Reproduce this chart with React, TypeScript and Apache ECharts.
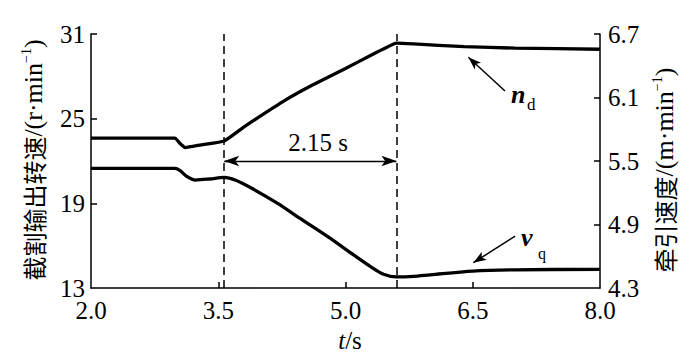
import React, { useEffect, useRef } from "react";
import * as echarts from "echarts";

// 截割输出转速 n_d (left axis, r/min)
const timeND = [2.0, 2.99, 3.04, 3.11, 3.3, 3.57, 3.8, 4.0, 4.3, 4.6, 5.0, 5.3, 5.5, 5.6, 5.8, 6.4, 7.0, 8.0];
const speedND = [23.62, 23.62, 23.3, 22.95, 23.15, 23.42, 24.4, 25.2, 26.35, 27.35, 28.55, 29.5, 30.1, 30.35, 30.3, 30.1, 30.0, 29.92];

// 牵引速度 v_q (right axis, m/min)
const timeVQ = [2.0, 2.99, 3.05, 3.12, 3.23, 3.4, 3.57, 3.7, 3.9, 4.2, 4.46, 4.8, 5.1, 5.3, 5.45, 5.6, 5.8, 6.0, 6.5, 7.0, 8.0];
const speedVQ = [5.43, 5.43, 5.41, 5.36, 5.32, 5.33, 5.345, 5.32, 5.24, 5.1, 4.96, 4.78, 4.61, 4.5, 4.43, 4.405, 4.41, 4.425, 4.46, 4.472, 4.476];

const xTicks = [2.0, 3.5, 5.0, 6.5, 8.0];
const leftTicks = [13, 19, 25, 31];
const rightTicks = [4.3, 4.9, 5.5, 6.1, 6.7];
const markTimes = [3.57, 5.6];
const spanLabel = "2.15 s";
const spanLevel = 22.0;
const ndArrow = [[6.88, 26.96], [6.448, 29.35]];
const vqArrow = [[7.0, 16.68], [6.507, 14.79]];

const SERIF = "Liberation Serif";
const CJK = "Noto Sans CJK SC";

export default function App() {
  const ref = useRef<HTMLDivElement>(null);
  useEffect(() => {
    if (!ref.current) return;
    const chart = echarts.init(ref.current, null, { renderer: "svg" });
    const ndData = timeND.map((t, i) => [t, speedND[i]]);
    const vqData = timeVQ.map((t, i) => [t, speedVQ[i]]);
    const axisLine = { show: true, lineStyle: { color: "#000", width: 1.5 } };
    const tick = (vals: number[]) => ({
      show: true,
      inside: true,
      length: 6,
      lineStyle: { color: "#000", width: 1.5 },
      customValues: vals,
    });
    const labelStyle = { color: "#000", fontFamily: SERIF, fontSize: 25 };
    const nameRich = {
      c: { fontFamily: CJK, fontSize: 24, lineHeight: 28, fill: "#000" },
      a: { fontFamily: SERIF, fontSize: 26, lineHeight: 28, fill: "#000" },
      s: { fontFamily: SERIF, fontSize: 14, lineHeight: 28, verticalAlign: "top", fill: "#000" },
    };
    const txt = (x: number, y: number, text: string, size: number, extra: any = {}) => ({
      type: "text",
      x,
      y,
      style: {
        text,
        fill: "#000",
        fontFamily: SERIF,
        fontSize: size,
        textAlign: "left",
        textVerticalAlign: "bottom",
        ...extra,
      },
    });
    chart.setOption({
      animation: false,
      textStyle: { fontFamily: SERIF },
      grid: { left: 91, right: 100, top: 34, bottom: 67, containLabel: false },
      xAxis: {
        type: "value",
        min: 2,
        max: 8,
        axisLine,
        axisTick: tick(xTicks.slice(1, -1)),
        axisLabel: { ...labelStyle, margin: 10, customValues: xTicks, formatter: (v: number) => v.toFixed(1) },
        splitLine: { show: false },
      },
      yAxis: [
        {
          type: "value",
          min: 13,
          max: 31,
          position: "left",
          axisLine,
          axisTick: tick(leftTicks.slice(1)),
          axisLabel: { ...labelStyle, margin: 6, customValues: leftTicks, formatter: (v: number) => String(v) },
          splitLine: { show: false },
        },
        {
          type: "value",
          min: 4.3,
          max: 6.7,
          position: "right",
          axisLine,
          axisTick: tick(rightTicks.slice(1)),
          axisLabel: { ...labelStyle, margin: 8, customValues: rightTicks, formatter: (v: number) => v.toFixed(1) },
          splitLine: { show: false },
        },
      ],
      series: [
        {
          type: "line",
          name: "nd",
          yAxisIndex: 0,
          data: ndData,
          showSymbol: false,
          symbol: "none",
          lineStyle: { color: "#000", width: 3.3 },
          smooth: 0.15,
          markLine: {
            silent: true,
            symbol: ["none", "none"],
            label: { show: false },
            lineStyle: { color: "#000", width: 1.5, type: [8, 5] },
            data: [
              ...markTimes.map((t) => ({ xAxis: t })),
              [
                { coord: [markTimes[0], spanLevel], symbol: "arrow", symbolSize: [8, 15], lineStyle: { type: "solid", width: 1.3 } },
                { coord: [markTimes[1], spanLevel], symbol: "arrow", symbolSize: [8, 15] },
              ],
              [
                { coord: ndArrow[0], symbol: "none", lineStyle: { type: "solid", width: 1.5 } },
                { coord: ndArrow[1], symbol: "arrow", symbolSize: [7, 13] },
              ],
              [
                { coord: vqArrow[0], symbol: "none", lineStyle: { type: "solid", width: 1.5 } },
                { coord: vqArrow[1], symbol: "arrow", symbolSize: [7, 13] },
              ],
            ],
          },
        },
        {
          type: "line",
          name: "vq",
          yAxisIndex: 1,
          data: vqData,
          showSymbol: false,
          symbol: "none",
          lineStyle: { color: "#000", width: 3.3 },
          smooth: 0.3,
        },
      ],
      graphic: [
        txt(318, 142, spanLabel, 25, { textAlign: "center", textVerticalAlign: "middle" }),
        {
          type: "text",
          x: 33,
          y: 160,
          rotation: Math.PI / 2,
          style: {
            text: "{c|截割输出转速}{a|/(r·min}{s|−1}{a|)}",
            fill: "#000",
            textAlign: "center",
            textVerticalAlign: "middle",
            rich: nameRich,
          },
        },
        {
          type: "text",
          x: 664,
          y: 170,
          rotation: Math.PI / 2,
          style: {
            text: "{c|牵引速度}{a|/(m·min}{s|−1}{a|)}",
            fill: "#000",
            textAlign: "center",
            textVerticalAlign: "middle",
            rich: nameRich,
          },
        },
        {
          type: "text",
          x: 350,
          y: 340,
          style: {
            text: "{i|t}{a|/s}",
            textAlign: "center",
            textVerticalAlign: "middle",
            rich: {
              i: { fontFamily: SERIF, fontSize: 25, fontStyle: "italic", fill: "#000" },
              a: { fontFamily: SERIF, fontSize: 25, fill: "#000" },
            },
          },
        },
        txt(511, 107, "n", 26, { fontStyle: "italic", fontWeight: "bold" }),
        txt(527, 113, "d", 17),
        txt(521, 250, "ν", 26, { fontStyle: "italic", fontWeight: "bold" }),
        txt(538, 261, "q", 16),
      ],
    });
    return () => chart.dispose();
  }, []);
  return (
    <div
      ref={ref}
      style={{ position: "fixed", left: 0, top: 0, width: 700, height: 355, background: "#fff" }}
    />
  );
}
